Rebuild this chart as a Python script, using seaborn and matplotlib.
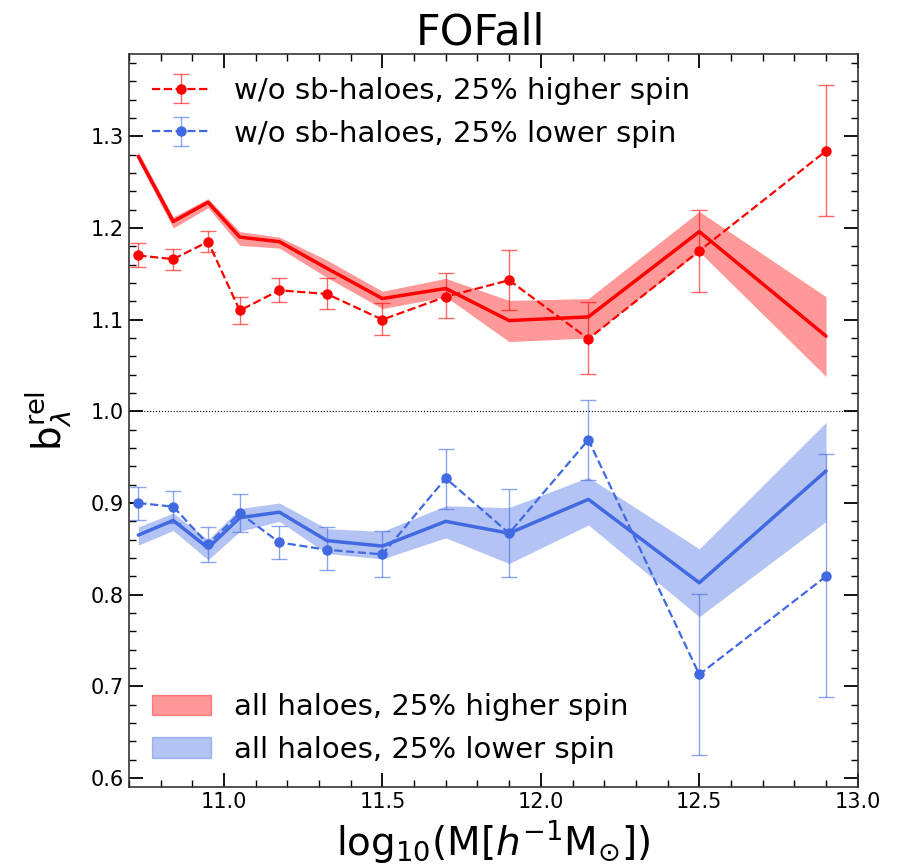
import numpy as np
import pandas as pd
import matplotlib
matplotlib.use('Agg')
import matplotlib.pyplot as plt
from matplotlib.patches import Patch
import seaborn as sns

# centres des bins en masse
log_mass = [10.73, 10.84, 10.95, 11.05, 11.175, 11.325, 11.5, 11.7, 11.9, 12.15, 12.5, 12.9]

# tous les halos (ligne continue + bande)
all_high = [1.278, 1.207, 1.228, 1.190, 1.185, 1.156, 1.123, 1.134, 1.099, 1.103, 1.196, 1.082]
all_high_lo = [1.273, 1.200, 1.222, 1.181, 1.178, 1.146, 1.112, 1.125, 1.076, 1.080, 1.174, 1.038]
all_high_hi = [1.283, 1.212, 1.232, 1.196, 1.190, 1.165, 1.131, 1.145, 1.121, 1.123, 1.218, 1.125]

all_low = [0.865, 0.881, 0.851, 0.884, 0.890, 0.859, 0.853, 0.880, 0.867, 0.904, 0.813, 0.935]
all_low_lo = [0.854, 0.870, 0.838, 0.869, 0.880, 0.845, 0.839, 0.862, 0.834, 0.876, 0.776, 0.880]
all_low_hi = [0.874, 0.889, 0.860, 0.894, 0.900, 0.872, 0.869, 0.897, 0.895, 0.928, 0.850, 0.988]

# sans sous-halos (tirets + barres d'erreur)
nosub_high = [1.170, 1.166, 1.185, 1.110, 1.132, 1.128, 1.100, 1.125, 1.143, 1.079, 1.175, 1.284]
nosub_high_lo = [1.157, 1.154, 1.174, 1.095, 1.119, 1.112, 1.083, 1.102, 1.111, 1.041, 1.130, 1.213]
nosub_high_hi = [1.184, 1.177, 1.197, 1.125, 1.145, 1.145, 1.118, 1.151, 1.176, 1.119, 1.220, 1.356]

nosub_low = [0.900, 0.896, 0.855, 0.889, 0.857, 0.849, 0.844, 0.927, 0.867, 0.969, 0.713, 0.820]
nosub_low_lo = [0.881, 0.878, 0.836, 0.868, 0.839, 0.827, 0.819, 0.894, 0.819, 0.925, 0.625, 0.688]
nosub_low_hi = [0.918, 0.913, 0.874, 0.910, 0.875, 0.874, 0.869, 0.959, 0.915, 1.012, 0.801, 0.953]

red = 'red'
blue = 'royalblue'

sns.set_style('ticks')
plt.rcParams['font.family'] = ['DejaVu Sans']
plt.rcParams['mathtext.fontset'] = 'dejavusans'
plt.rcParams['text.color'] = 'black'
plt.rcParams['axes.labelcolor'] = 'black'
plt.rcParams['xtick.color'] = 'black'
plt.rcParams['ytick.color'] = 'black'

fig = plt.figure(figsize=(9.01, 8.67), dpi=100)
ax = fig.add_axes([0.143, 0.092, 0.809, 0.846])

df = pd.DataFrame({'x': log_mass, 'high': all_high, 'low': all_low})

# bandes + lignes pleines
ax.fill_between(log_mass, all_high_lo, all_high_hi, color=red, alpha=0.4, linewidth=0)
ax.fill_between(log_mass, all_low_lo, all_low_hi, color=blue, alpha=0.4, linewidth=0)
sns.lineplot(data=df, x='x', y='high', color=red, linewidth=2.5, ax=ax)
sns.lineplot(data=df, x='x', y='low', color=blue, linewidth=2.5, ax=ax)

# points avec barres d'erreur
h1 = ax.errorbar(log_mass, nosub_high,
                 yerr=[np.array(nosub_high) - np.array(nosub_high_lo), np.array(nosub_high_hi) - np.array(nosub_high)],
                 fmt='o--', color=red, ms=6.5, lw=1.6, elinewidth=1, capsize=6, ecolor=(1, 0, 0, 0.6))
h2 = ax.errorbar(log_mass, nosub_low,
                 yerr=[np.array(nosub_low) - np.array(nosub_low_lo), np.array(nosub_low_hi) - np.array(nosub_low)],
                 fmt='o--', color=blue, ms=6.5, lw=1.6, elinewidth=1, capsize=6, ecolor=(0.255, 0.41, 0.88, 0.6))

ax.axhline(1.0, color='k', linestyle=':', linewidth=0.8)

ax.set_xlim(10.7, 13.0)
ax.set_ylim(0.59, 1.39)
ax.set_xticks([11.0, 11.5, 12.0, 12.5, 13.0])
ax.set_xticks(np.arange(10.7, 13.0, 0.1), minor=True)
ax.set_yticks([0.6, 0.7, 0.8, 0.9, 1.0, 1.1, 1.2, 1.3])
ax.set_yticks(np.arange(0.6, 1.39, 0.02), minor=True)
ax.tick_params(which='both', direction='in', top=True, right=True, labelsize=15)
ax.tick_params(which='major', length=10, width=1.3)
ax.tick_params(which='minor', length=5, width=1)
for s in ax.spines.values():
    s.set_linewidth(1.2)
    s.set_color('#333333')

ax.set_title('FOFall', fontsize=31, x=0.483)
ax.set_xlabel(r'$\mathrm{log}_{10}(\mathrm{M}[h^{-1}\mathrm{M}_{\odot}])$', fontsize=28, labelpad=4)
ax.set_ylabel(r'$\mathrm{b}_{\lambda}^{\mathrm{rel}}$', fontsize=28, labelpad=12)

leg1 = ax.legend([h1, h2], ['w/o sb-haloes, 25% higher spin', 'w/o sb-haloes, 25% lower spin'],
                 loc='upper left', fontsize=21, frameon=False, borderaxespad=0.4)
ax.add_artist(leg1)
patches = [Patch(facecolor=red, alpha=0.4, edgecolor=red), Patch(facecolor=blue, alpha=0.4, edgecolor=blue)]
ax.legend(patches, ['all haloes, 25% higher spin', 'all haloes, 25% lower spin'],
          loc='lower left', fontsize=21, frameon=False, borderaxespad=0.4)

fig.savefig('out.png', dpi=100)
